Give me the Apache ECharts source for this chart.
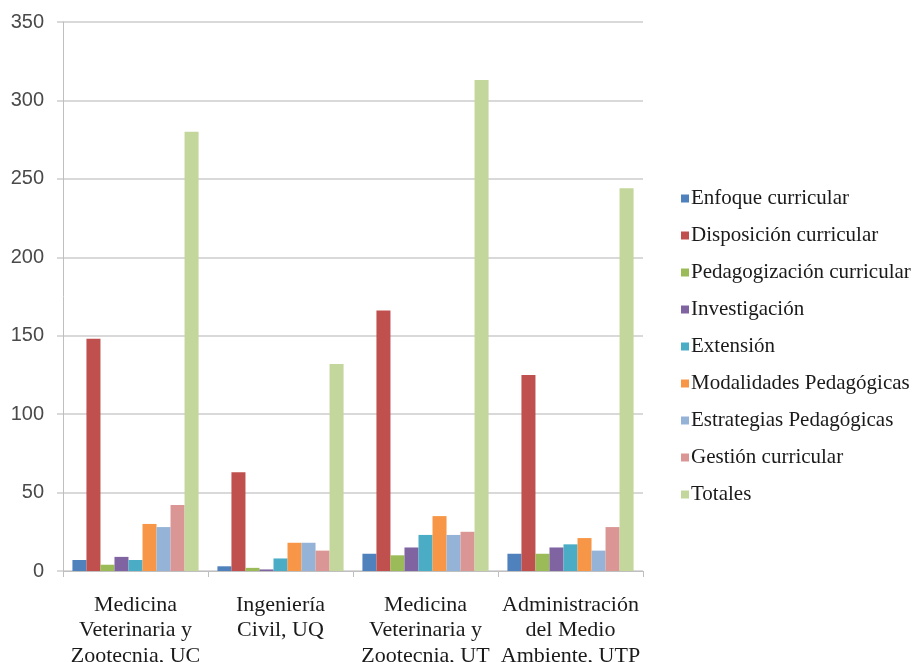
<!DOCTYPE html>
<html>
<head>
<meta charset="utf-8">
<script src="https://cdn.jsdelivr.net/npm/echarts@6/dist/echarts.min.js"></script>
<style>
  html, body { margin: 0; padding: 0; background: #fff; }
  #chart { width: 921px; height: 662px; }
</style>
</head>
<body>
<div id="chart"></div>
<script>
// Programs (x categories)
const programas = [
  'Medicina\nVeterinaria y\nZootecnia, UC',
  'Ingeniería\nCivil, UQ',
  'Medicina\nVeterinaria y\nZootecnia, UT',
  'Administración\ndel Medio\nAmbiente, UTP'
];

// Series names
const categorias = [
  'Enfoque curricular',
  'Disposición curricular',
  'Pedagogización curricular',
  'Investigación',
  'Extensión',
  'Modalidades Pedagógicas',
  'Estrategias Pedagógicas',
  'Gestión curricular',
  'Totales'
];

// Values per series, one per program
const enfoque        = [7, 3, 11, 11];
const disposicion    = [148, 63, 166, 125];
const pedagogizacion = [4, 2, 10, 11];
const investigacion  = [9, 1, 15, 15];
const extension      = [7, 8, 23, 17];
const modalidades    = [30, 18, 35, 21];
const estrategias    = [28, 18, 23, 13];
const gestion        = [42, 13, 25, 28];
const totales        = [280, 132, 313, 244];

const valores = [enfoque, disposicion, pedagogizacion, investigacion, extension,
                 modalidades, estrategias, gestion, totales];

const colores = ['#4F81BD', '#C0504D', '#9BBB59', '#8064A2', '#4BACC6',
                 '#F79646', '#95B3D7', '#D99694', '#C3D69B'];

// Y axis ticks
const yMin = 0, yMax = 350, yStep = 50;

const chart = echarts.init(document.getElementById('chart'));
chart.setOption({
  animation: false,
  backgroundColor: '#ffffff',
  color: colores,
  grid: { left: 63, right: 278, top: 22, bottom: 91, containLabel: false, outerBoundsMode: 'none' },
  legend: {
    orient: 'vertical',
    left: 676,
    top: 183,
    itemWidth: 8,
    itemHeight: 8,
    itemGap: 16,
    icon: 'rect',
    textStyle: { fontFamily: 'Liberation Serif', fontSize: 21, color: '#1a1a1a', padding: [0, 0, 0, -3] },
    data: categorias
  },
  xAxis: {
    type: 'category',
    data: programas,
    axisLine: { lineStyle: { color: '#bfbfbf', width: 1 } },
    axisTick: { show: true, length: 6, lineStyle: { color: '#bfbfbf' } },
    axisLabel: {
      interval: 0,
      margin: 21,
      fontFamily: 'Liberation Serif',
      fontSize: 22,
      lineHeight: 25.5,
      color: '#1a1a1a'
    }
  },
  yAxis: {
    type: 'value',
    min: yMin,
    max: yMax,
    interval: yStep,
    axisLine: { show: true, lineStyle: { color: '#bfbfbf', width: 1 } },
    axisTick: { show: true, length: 6, lineStyle: { color: '#d9d9d9', width: 2 } },
    splitLine: { lineStyle: { color: '#d9d9d9', width: 2 } },
    axisLabel: {
      margin: 19,
      fontFamily: 'Liberation Sans',
      fontSize: 20,
      color: '#4a4a4a'
    }
  },
  series: categorias.map((name, i) => ({
    name: name,
    type: 'bar',
    data: valores[i],
    barGap: '0%',
    barCategoryGap: '13%',
    itemStyle: { color: colores[i] }
  }))
});
</script>
</body>
</html>
